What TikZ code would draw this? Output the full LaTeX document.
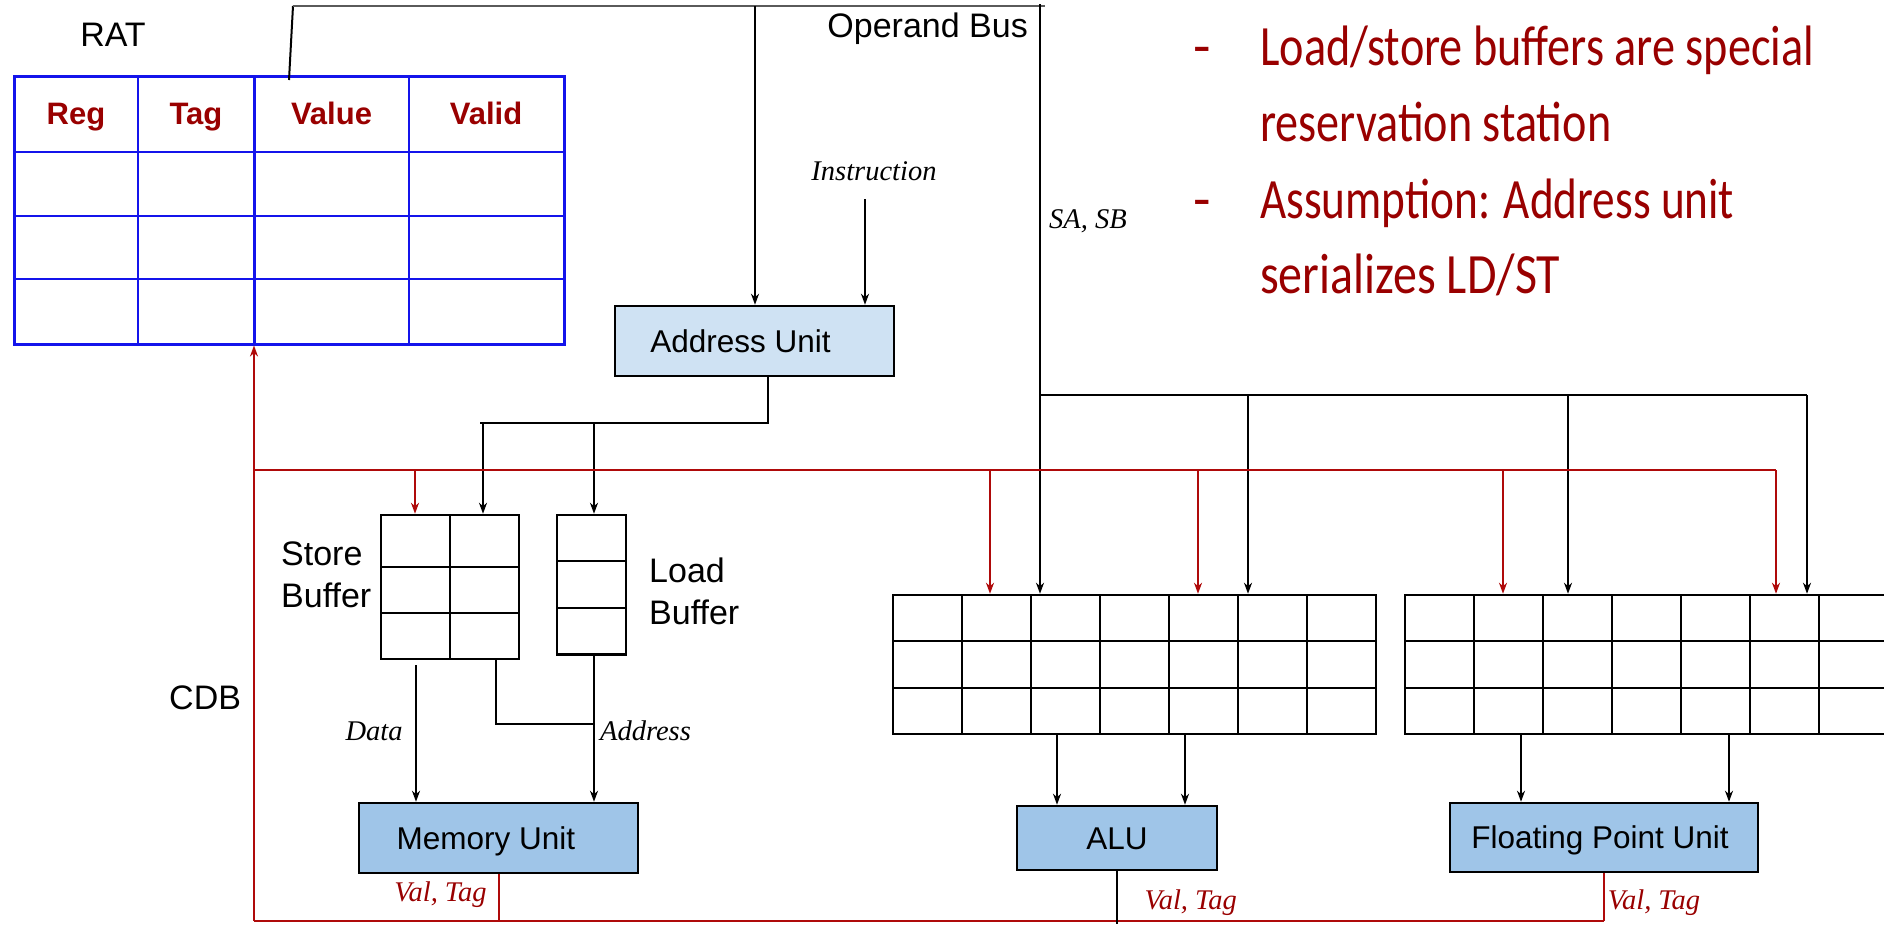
\documentclass[tikz,border=0pt]{standalone}
\usepackage{fontspec}
\usepackage{graphicx}
\usetikzlibrary{arrows.meta,calc}
\newfontfamily\arial{Liberation Sans}
\newfontfamily\notefont{Carlito}
\newfontfamily\itfont{Liberation Serif}
\definecolor{dred}{RGB}{153,0,0}
\definecolor{cdbred}{RGB}{175,10,10}
\definecolor{ratblue}{RGB}{20,20,235}
\definecolor{aublue}{RGB}{207,226,243}
\definecolor{unitblue}{RGB}{159,197,232}
\definecolor{busgray}{RGB}{90,90,90}
\begin{document}
\begin{tikzpicture}[x=1pt,y=-1pt,
  ln/.style={line width=2pt,black},
  arr/.style={ln,-{Stealth[length=11pt,width=8pt,inset=3.5pt]}},
  redln/.style={line width=2pt,cdbred},
  redarr/.style={redln,-{Stealth[length=11pt,width=8pt,inset=3.5pt]}},
  unitbox/.style={draw=black,line width=2.5pt,inner sep=0pt,font=\arial\fontsize{31.5}{36}\selectfont,text height=22.6pt,text depth=0pt},
  rsgrid/.style={draw=black,line width=2.5pt,inner sep=0pt},
  gridln/.style={line width=2pt,black},
  ratln/.style={line width=2.5pt,ratblue},
  lbl/.style={font=\arial\fontsize{34}{42}\selectfont,inner sep=0pt},
  itl/.style={font=\itfont\itshape\fontsize{28.5}{32}\selectfont,inner sep=0pt},
  hdr/.style={font=\arial\bfseries\fontsize{31}{36}\selectfont,text=dred,inner sep=0pt,anchor=base},
  notetxt/.style={font=\notefont\fontsize{57}{64}\selectfont,text=dred,inner sep=0pt,anchor=base west},
]
\useasboundingbox (0,0) rectangle (1884,924);
\clip (0,0) rectangle (1884,924);

% ---------- RAT ----------
\node[lbl,anchor=base] (ratlbl) at (113,46) {RAT};
\node[draw=ratblue,line width=2.5pt,inner sep=0pt,minimum width=550pt,minimum height=268pt,anchor=north west] (rat) at (13,75) {};
\foreach \x in {138,254.5,409} \draw[ratln] (\x,75) -- (\x,343);
\foreach \y in {152,216,279} \draw[ratln] (13,\y) -- (563,\y);
\node[hdr] (hReg) at (76,124) {Reg};
\node[hdr] (hTag) at (196,124) {Tag};
\node[hdr] (hVal) at (331.5,124) {Value};
\node[hdr] (hValid) at (486,124) {Valid};

% ---------- units ----------
\node[unitbox,fill=aublue,minimum width=279pt,minimum height=70pt] (au) at (754.5,341) {Address Unit\hspace*{28pt}};
\node[unitbox,fill=unitblue,minimum width=279pt,minimum height=70pt] (mu) at (498.5,838) {Memory Unit\hspace*{25pt}};
\node[unitbox,fill=unitblue,minimum width=200pt,minimum height=64pt] (alu) at (1117,838) {ALU};
\node[unitbox,fill=unitblue,minimum width=308pt,minimum height=69pt] (fpu) at (1604,837.5) {Floating Point Unit\hspace*{8pt}};

% ---------- store / load buffers ----------
\node[rsgrid,minimum width=138pt,minimum height=144pt] (sb) at (450,587) {};
\draw[gridln] (450,515) -- (450,659);
\foreach \y in {566.6,612.5} \draw[gridln] (381,\y) -- (519,\y);
\node[rsgrid,minimum width=69pt,minimum height=139.6pt] (lb) at (591.5,584.8) {};
\foreach \y in {561.4,608} \draw[gridln] (557,\y) -- (626,\y);
\node[lbl,align=left,anchor=west] (sblbl) at (281,575) {Store\\Buffer};
\node[lbl,align=left,anchor=west] (lblbl) at (649,591) {Load\\Buffer};
\node[lbl,anchor=base west] (cdblbl) at (169,709.5) {CDB};

% ---------- reservation stations ----------
\node[rsgrid,minimum width=483pt,minimum height=139pt] (rs1) at (1134.5,664.5) {};
\foreach \i in {1,...,6} \draw[gridln] (893+69*\i,595) -- (893+69*\i,734);
\foreach \y in {641,688} \draw[gridln] (893,\y) -- (1376,\y);
\node[rsgrid,minimum width=483pt,minimum height=139pt] (rs2) at (1646.5,664.5) {};
\foreach \i in {1,...,6} \draw[gridln] (1405+69*\i,595) -- (1405+69*\i,734);
\foreach \y in {641,688} \draw[gridln] (1405,\y) -- (1888,\y);

% ---------- operand bus ----------
\coordinate (ratTap) at (289,80);
\coordinate (busL) at (293,6);
\coordinate (busR) at (1045,6);
\draw[ln] (ratTap) -- (busL);
\draw[line width=2pt,busgray] (busL) -- (busR);
\node[lbl,anchor=base east] (oplbl) at (1028,37) {Operand Bus};
\coordinate (auIn) at (755,6);
\draw[arr] (auIn) -- (auIn |- au.north);
\coordinate (instr) at (865,199);
\draw[arr] (instr) -- (instr |- au.north);
\node[itl,anchor=base] (instrlbl) at (874,180) {Instruction};
\coordinate (opTop) at (1040,4);
\draw[arr] (opTop) -- (opTop |- rs1.north);
\node[itl,anchor=base west] (sasb) at (1049,228) {SA, SB};
\coordinate (opJ) at (1040,395);
\coordinate (opR) at (1807,395);
\draw[ln] (opJ) -- (opR);
\draw[arr] (1248,395) -- (1248,0 |- rs1.north);
\draw[arr] (1568,395) -- (1568,0 |- rs2.north);
\draw[arr] (opR) -- (opR |- rs2.north);

% ---------- address unit to buffers ----------
\coordinate (auJ) at (768,423);
\coordinate (auL) at (480,423);
\draw[ln] (auJ |- au.south) -- (auJ) -- (auL);
\draw[arr] (483,423) -- (483,0 |- sb.north);
\draw[arr] (594,423) -- (594,0 |- lb.north);

% ---------- buffers to memory unit ----------
\draw[arr] (416,665) -- (416,0 |- mu.north);
\node[itl,anchor=base] (datalbl) at (374,740) {Data};
\coordinate (sbAddr) at (496,724);
\draw[ln] (sbAddr |- sb.south) -- (sbAddr) -- (594,724);
\draw[arr] (594,0 |- lb.south) -- (594,0 |- mu.north);
\node[itl,anchor=base] (addrlbl) at (645.5,740) {Address};

% ---------- RS to units ----------
\draw[arr] (1057,0 |- rs1.south) -- (1057,0 |- alu.north);
\draw[arr] (1185,0 |- rs1.south) -- (1185,0 |- alu.north);
\draw[arr] (1521,0 |- rs2.south) -- (1521,0 |- fpu.north);
\draw[arr] (1729,0 |- rs2.south) -- (1729,0 |- fpu.north);

% ---------- CDB ----------
\coordinate (cdbBL) at (254,921);
\coordinate (cdbTL) at (254,470);
\coordinate (cdbTR) at (1776,470);
\draw[redarr] (cdbBL) -- (cdbBL |- rat.south);
\draw[redln] (cdbTL) -- (cdbTR);
\draw[redarr] (cdbTR) -- (cdbTR |- rs2.north);
\draw[redarr] (415,470) -- (415,0 |- sb.north);
\draw[redarr] (990,470) -- (990,0 |- rs1.north);
\draw[redarr] (1198,470) -- (1198,0 |- rs1.north);
\draw[redarr] (1503,470) -- (1503,0 |- rs2.north);
\draw[redln] (cdbBL) -- (fpu.south |- cdbBL);
\draw[redln] (mu.south) -- (mu.south |- cdbBL);
\draw[redln] (fpu.south) -- (fpu.south |- cdbBL);
\draw[ln] (alu.south) -- (1117,924);
\node[itl,text=dred,anchor=base] (vt1) at (440.5,901.4) {Val, Tag};
\node[itl,text=dred,anchor=base] (vt2) at (1190.7,909.5) {Val, Tag};
\node[itl,text=dred,anchor=base] (vt3) at (1654,909.5) {Val, Tag};

% ---------- notes ----------
\node[notetxt] (d1) at (1193,65) {-};
\node[notetxt] (n1) at (1260,65) {\resizebox{554pt}{\height}{Load/store buffers are special}};
\node[notetxt] (n2) at (1260,141.7) {\resizebox{351pt}{\height}{reservation station}};
\node[notetxt] (d2) at (1193,218) {-};
\node[notetxt] (n3) at (1260,218) {\resizebox{474pt}{\height}{Assumption: Address unit}};
\node[notetxt] (n4) at (1260,293) {\resizebox{300pt}{\height}{serializes LD/ST}};
\end{tikzpicture}
\end{document}
